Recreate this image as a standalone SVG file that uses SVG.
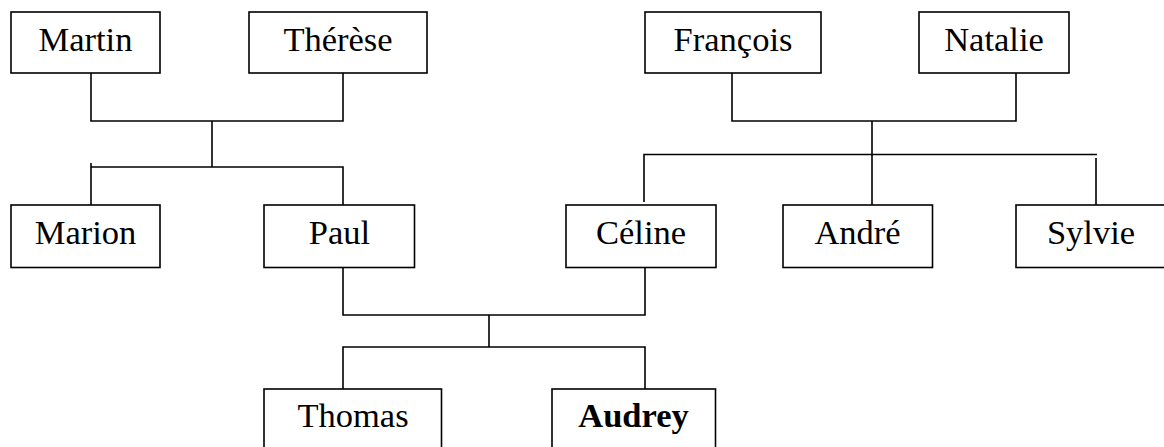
<svg xmlns="http://www.w3.org/2000/svg" width="1164" height="447" viewBox="0 0 1164 447">
<style>
.box{fill:#fff;stroke:#000;stroke-width:1.6}
.lbl{font-family:"Liberation Serif","Times New Roman",serif;font-size:34.5px;fill:#000;text-anchor:middle}
.b{font-weight:bold}
.conn{fill:none;stroke:#000;stroke-width:1.6}
</style>
<rect width="1164" height="447" fill="#fff"/>
<g id="connectors" class="conn">
<path d="M91 73V121H343V73M212 121V167M91 163V205M91 167H343V205"/>
<path d="M732 73V121H1016V73M872 121V205M644 202V154.5H1097M1096 158V205"/>
<path d="M343 268V315H645V268M489 315V347M343 389V347H645V389"/>
</g>
<g id="martin"><rect class="box" x="11" y="12" width="149" height="61"/><text class="lbl" x="85.5" y="51">Martin</text></g>
<g id="therese"><rect class="box" x="249" y="12" width="178" height="61"/><text class="lbl" x="338" y="51">Thérèse</text></g>
<g id="francois"><rect class="box" x="645" y="12" width="176" height="61"/><text class="lbl" x="733" y="51">François</text></g>
<g id="natalie"><rect class="box" x="919" y="12" width="150" height="61"/><text class="lbl" x="994" y="51">Natalie</text></g>
<g id="marion"><rect class="box" x="11" y="205" width="149" height="62.5"/><text class="lbl" x="85.5" y="244">Marion</text></g>
<g id="paul"><rect class="box" x="264" y="205" width="150.5" height="62.5"/><text class="lbl" x="339.5" y="244">Paul</text></g>
<g id="celine"><rect class="box" x="566" y="205" width="150" height="62.5"/><text class="lbl" x="641" y="244">Céline</text></g>
<g id="andre"><rect class="box" x="783" y="205" width="149.5" height="62.5"/><text class="lbl" x="857.5" y="244">André</text></g>
<g id="sylvie"><rect class="box" x="1016" y="205" width="160" height="62.5"/><text class="lbl" x="1091" y="244">Sylvie</text></g>
<g id="thomas"><rect class="box" x="264" y="389" width="177.5" height="70"/><text class="lbl" x="353" y="427">Thomas</text></g>
<g id="audrey"><rect class="box" x="552" y="389" width="163.5" height="70"/><text class="lbl b" x="633.5" y="427">Audrey</text></g>
</svg>
